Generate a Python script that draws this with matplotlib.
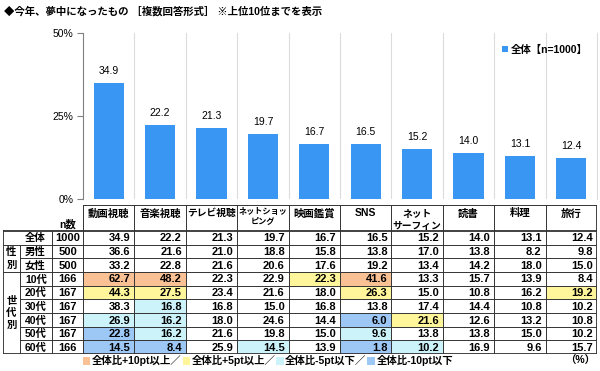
import numpy as np
import matplotlib
matplotlib.use("Agg")
import matplotlib.pyplot as plt
from matplotlib.patches import Rectangle, Patch

plt.rcParams['font.family'] = ['Liberation Sans', 'Noto Sans CJK JP', 'DejaVu Sans']

categories = ['動画視聴', '音楽視聴', 'テレビ視聴', 'ネットショッ\nピング', '映画鑑賞',
              'SNS', 'ネット\nサーフィン', '読書', '料理', '旅行']
row_labels = ['全体', '男性', '女性', '10代', '20代', '30代', '40代', '50代', '60代']
n_values = [1000, 500, 500, 166, 167, 167, 167, 167, 166]
overall = [34.9, 22.2, 21.3, 19.7, 16.7, 16.5, 15.2, 14.0, 13.1, 12.4]
male = [36.6, 21.6, 21.0, 18.8, 15.8, 13.8, 17.0, 13.8, 8.2, 9.8]
female = [33.2, 22.8, 21.6, 20.6, 17.6, 19.2, 13.4, 14.2, 18.0, 15.0]
age10 = [62.7, 48.2, 22.3, 22.9, 22.3, 41.6, 13.3, 15.7, 13.9, 8.4]
age20 = [44.3, 27.5, 23.4, 21.6, 18.0, 26.3, 15.0, 10.8, 16.2, 19.2]
age30 = [38.3, 16.8, 16.8, 15.0, 16.8, 13.8, 17.4, 14.4, 10.8, 10.2]
age40 = [26.9, 16.2, 18.0, 24.6, 14.4, 6.0, 21.6, 12.6, 13.2, 10.8]
age50 = [22.8, 16.2, 21.6, 19.8, 15.0, 9.6, 13.8, 13.8, 15.0, 10.2]
age60 = [14.5, 8.4, 25.9, 14.5, 13.9, 1.8, 10.2, 16.9, 9.6, 15.7]
table_rows = [overall, male, female, age10, age20, age30, age40, age50, age60]
legend_labels = ['全体比+10pt以上／', '全体比+5pt以上／', '全体比-5pt以下／', '全体比-10pt以下']
yticks = [0, 25, 50]

BAR = '#3A96F3'
C_P10, C_P5, C_M5, C_M10 = '#FAC195', '#FFF59B', '#CDF3FA', '#9DC8F5'
LINE = '#333333'

W, H = 600, 371
fig = plt.figure(figsize=(6, 3.71), dpi=100)
def fx(px): return px / W
def fy(py): return 1 - py / H

# ---------------- bar chart ----------------
ax = fig.add_axes([fx(83), fy(199), fx(597) - fx(83), fy(33) - fy(199)])
x = np.arange(len(categories))
bars = ax.bar(x, overall, width=0.59, color=BAR, label='全体【n=1000】', zorder=3)
ax.bar_label(bars, labels=[f'{v:.1f}' for v in overall], padding=5, fontsize=7.5)
ax.set_xlim(-0.5, len(categories) - 0.5)
ax.set_ylim(0, 50)
ax.set_yticks(yticks)
ax.set_yticklabels([f'{t}%' for t in yticks], fontsize=7.5)
ax.set_xticks([])
ax.set_xticks(np.arange(0.5, len(categories) - 0.5, 1), minor=True)
ax.tick_params(axis='x', which='minor', length=0)
ax.grid(axis='x', which='minor', color='#DCDCDC', lw=0.8, zorder=0)
ax.tick_params(axis='y', length=4, color='#808080', pad=3)
ax.spines['top'].set_visible(False)
ax.spines['bottom'].set_visible(False)
ax.spines['right'].set_color('#DCDCDC')
ax.spines['left'].set_color('#808080')
ax.legend(loc='upper right', bbox_to_anchor=(1.0, 0.985), frameon=False,
          handlelength=0.55, handleheight=0.55, handletextpad=0.3,
          prop={'weight': 'bold', 'size': 7.5})

# ---------------- table ----------------
colw = 51.4  # px per column
x_left = -0.5 - 80 / colw
x_sec = -0.5 - 63 / colw
x_n = -0.5 - 31 / colw
hdr = -1.9
tax = fig.add_axes([fx(3), fy(354), fx(597) - fx(3), fy(205) - fy(354)])
tax.set_xlim(x_left, len(categories) - 0.5)
tax.set_ylim(len(row_labels), hdr)
tax.axis('off')

def cell_color(v, base):
    d = round(v - base, 1)
    if d >= 10: return C_P10
    if d >= 5: return C_P5
    if d <= -10: return C_M10
    if d <= -5: return C_M5
    return None

fs = 7.5
fnum = 8
for r, vals in enumerate(table_rows):
    for c, v in enumerate(vals):
        col = cell_color(v, overall[c]) if r >= 1 else None
        if col:
            tax.add_patch(Rectangle((c - 0.5, r), 1, 1, facecolor=col, edgecolor='none'))
        tax.text(c + 0.5 - 4 / colw, r + 0.55, f'{v:.1f}', ha='right', va='center',
                 fontsize=fnum, fontweight='bold')
    tax.text(x_sec + 5 / colw, r + 0.55, row_labels[r], ha='left', va='center',
             fontsize=fs, fontweight='bold')
    tax.text((x_n - 0.5) / 2, r + 0.55, str(n_values[r]), ha='center', va='center',
             fontsize=fnum, fontweight='bold')

for c, name in enumerate(categories):
    longest = max(len(s) for s in name.split('\n'))
    size = min(fs, 49 / (longest * 1.389))
    tax.text(c, hdr + 0.25, name, ha='center', va='top', fontsize=size,
             fontweight='bold', linespacing=1.3)
tax.text((x_n - 0.5) / 2, -0.1, 'n数', ha='center', va='bottom', fontsize=fs, fontweight='bold')
tax.text((x_left + x_sec) / 2, 2.0, '性\n別', ha='center', va='center', fontsize=fs,
         fontweight='bold', linespacing=1.3)
tax.text((x_left + x_sec) / 2, 6.0, '世\n代\n別', ha='center', va='center', fontsize=fs,
         fontweight='bold', linespacing=1.3)

xr = len(categories) - 0.5
nr = len(row_labels)
thin, thick = 0.7, 1.3
# horizontal lines
tax.plot([-0.5, xr], [hdr, hdr], color=LINE, lw=thin)
tax.plot([x_left, xr], [0, 0], color=LINE, lw=thick)
for r in range(1, nr):
    x0 = x_left if r in (1, 3) else x_sec
    tax.plot([x0, xr], [r, r], color=LINE, lw=thin)
tax.plot([x_left, xr], [nr, nr], color=LINE, lw=thick)
# vertical lines
tax.plot([x_left, x_left], [0, nr], color=LINE, lw=thick)
tax.plot([x_sec, x_sec], [1, nr], color=LINE, lw=thin)
tax.plot([x_n, x_n], [0, nr], color=LINE, lw=thin)
for c in range(len(categories) + 1):
    tax.plot([c - 0.5, c - 0.5], [hdr, nr], color=LINE,
             lw=thick if c == len(categories) else thin)

# bottom legend
handles = [Patch(facecolor=cc, edgecolor='none') for cc in (C_P10, C_P5, C_M5, C_M10)]
fig.legend(handles, legend_labels, loc='center', bbox_to_anchor=(fx(268), fy(361)),
           ncol=4, frameon=False, handlelength=0.7, handleheight=0.8, handletextpad=0.15,
           columnspacing=0.1, prop={'weight': 'bold', 'size': fs})
fig.text(fx(595), fy(361), '（%）', ha='right', va='center', fontsize=fs, fontweight='bold')

fig.text(fx(4), fy(11), '◆今年、夢中になったもの ［複数回答形式］ ※上位10位までを表示',
         ha='left', va='center', fontsize=7.5, fontweight='bold')

fig.savefig('out.png', dpi=100)
